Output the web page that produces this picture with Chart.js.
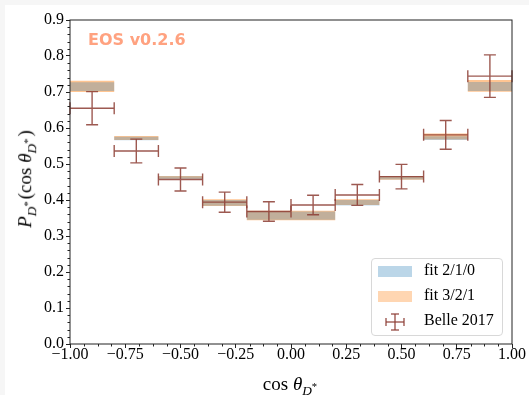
<!DOCTYPE html>
<html>
<head>
<meta charset="utf-8">
<script src="https://cdn.jsdelivr.net/npm/chart.js@4/dist/chart.umd.min.js"></script>
<style>
  html, body { margin: 0; padding: 0; background: #f6f6f6; }
  #wrap { position: absolute; left: 5px; top: 5px; width: 524px; height: 390px; background: #fff; }
  #chart { position: absolute; left: 0; top: 0; }
  .serif { font-family: 'Liberation Serif', serif; color: #000; }
  #eos { position: absolute; left: 83px; top: 25px; font: bold 16px 'DejaVu Sans', sans-serif; color: #ffa280; }
  #ylabel { position: absolute; left: 22px; top: 174px; transform: translate(-50%, -50%) rotate(-90deg); font-size: 19px; white-space: nowrap; }
  #xlabel { position: absolute; left: 286px; top: 381px; transform: translate(-50%, -50%); font-size: 19px; white-space: nowrap; }
  sub { font-size: 70%; vertical-align: -0.35em; margin-right: 2px; }
  sub sup { font-size: 80%; vertical-align: 0.5em; }
  #legend { position: absolute; left: 366px; top: 253px; width: 130px; height: 76px; border: 1px solid #d8d8d8; border-radius: 4px; background: rgba(255,255,255,0.85); }
  .row { position: absolute; left: 0; height: 20px; width: 130px; }
  .patch { position: absolute; left: 6px; top: 4px; width: 34px; height: 11px; }
  .ltext { position: absolute; left: 52px; top: -1px; font-size: 16px; white-space: nowrap; }
</style>
</head>
<body>
<div id="wrap">
  <canvas id="chart" width="524" height="390"></canvas>
  <div id="eos">EOS v0.2.6</div>
  <div id="ylabel" class="serif"><i>P</i><sub><i>D</i><sup>*</sup></sub>(cos <i>θ</i><sub><i>D</i><sup>*</sup></sub>)</div>
  <div id="xlabel" class="serif">cos <i>θ</i><sub><i>D</i><sup>*</sup></sub></div>
  <div id="legend" class="serif">
    <div class="row" style="top:3px"><div class="patch" style="background:rgba(31,119,180,0.3)"></div><div class="ltext">fit 2/1/0</div></div>
    <div class="row" style="top:28px"><div class="patch" style="background:rgba(255,127,14,0.32)"></div><div class="ltext">fit 3/2/1</div></div>
    <div class="row" style="top:53px">
      <svg style="position:absolute;left:13px;top:1px" width="20" height="18">
        <g stroke="rgba(140,60,50,0.85)" stroke-width="1.4" fill="none">
          <line x1="1" y1="9" x2="19" y2="9"/><line x1="10" y1="1" x2="10" y2="17"/>
          <line x1="1" y1="5" x2="1" y2="13"/><line x1="19" y1="5" x2="19" y2="13"/>
          <line x1="6" y1="1" x2="14" y2="1"/><line x1="6" y1="17" x2="14" y2="17"/>
        </g>
      </svg>
      <div class="ltext">Belle 2017</div>
    </div>
  </div>
</div>
<script>
// bins in cos(theta_D*)
const binEdges = [-1.0, -0.8, -0.6, -0.4, -0.2, 0.0, 0.2, 0.4, 0.6, 0.8, 1.0];

// Belle 2017 measurement
const belleValues = [0.655, 0.536, 0.457, 0.394, 0.368, 0.386, 0.414, 0.465, 0.581, 0.744];
const belleErrors = [0.046, 0.033, 0.032, 0.028, 0.027, 0.027, 0.029, 0.034, 0.040, 0.059];

// fit bands
const fit210Lower = [0.703, 0.566, 0.458, 0.384, 0.345, 0.345, 0.385, 0.457, 0.567, 0.703];
const fit210Upper = [0.727, 0.576, 0.466, 0.400, 0.368, 0.368, 0.400, 0.466, 0.577, 0.728];
const fit321Lower = [0.700, 0.567, 0.459, 0.383, 0.344, 0.344, 0.386, 0.456, 0.568, 0.701];
const fit321Upper = [0.731, 0.578, 0.467, 0.402, 0.370, 0.370, 0.402, 0.467, 0.585, 0.733];

const xTickValues = [-1.0, -0.75, -0.5, -0.25, 0.0, 0.25, 0.5, 0.75, 1.0];
const yTickValues = [0.0, 0.1, 0.2, 0.3, 0.4, 0.5, 0.6, 0.7, 0.8, 0.9];

const errColor = 'rgba(140,60,50,0.85)';
const serif = "'Liberation Serif', serif";

function stepData(values) {
    return binEdges.map((x, i) => ({ x: x, y: values[Math.min(i, values.length - 1)] }));
}

const belleData = belleValues.map((v, i) => ({ x: (binEdges[i] + binEdges[i + 1]) / 2, y: v }));

// error bars with caps, horizontal ones span the bin
const errorBarPlugin = {
    id: 'errorBars',
    afterDatasetsDraw(chart) {
        const ctx = chart.ctx;
        const xs = chart.scales.x, ys = chart.scales.y;
        const cap = 6;
        ctx.save();
        ctx.strokeStyle = errColor;
        ctx.lineWidth = 1.4;
        belleValues.forEach((v, i) => {
            const xc = xs.getPixelForValue((binEdges[i] + binEdges[i + 1]) / 2);
            const x0 = xs.getPixelForValue(binEdges[i]);
            const x1 = xs.getPixelForValue(binEdges[i + 1]);
            const yc = ys.getPixelForValue(v);
            const yLo = ys.getPixelForValue(v - belleErrors[i]);
            const yHi = ys.getPixelForValue(v + belleErrors[i]);
            ctx.beginPath();
            ctx.moveTo(x0, yc); ctx.lineTo(x1, yc);
            ctx.moveTo(xc, yLo); ctx.lineTo(xc, yHi);
            ctx.moveTo(x0, yc - cap); ctx.lineTo(x0, yc + cap);
            ctx.moveTo(x1, yc - cap); ctx.lineTo(x1, yc + cap);
            ctx.moveTo(xc - cap, yLo); ctx.lineTo(xc + cap, yLo);
            ctx.moveTo(xc - cap, yHi); ctx.lineTo(xc + cap, yHi);
            ctx.stroke();
        });
        ctx.restore();
    }
};

// frame around the axes plus minor ticks
const framePlugin = {
    id: 'frame',
    afterDraw(chart) {
        const ctx = chart.ctx;
        const a = chart.chartArea;
        const xs = chart.scales.x, ys = chart.scales.y;
        ctx.save();
        ctx.strokeStyle = '#222';
        ctx.lineWidth = 1;
        ctx.strokeRect(a.left, a.top, a.right - a.left, a.bottom - a.top);
        ctx.beginPath();
        for (let k = 0; k <= 32; k++) {
            if (k % 4 === 0) continue;
            const px = Math.round(xs.getPixelForValue(-1 + k * 0.0625)) + 0.5;
            ctx.moveTo(px, a.bottom); ctx.lineTo(px, a.bottom + 2.5);
        }
        for (let k = 0; k <= 45; k++) {
            if (k % 5 === 0) continue;
            const py = Math.round(ys.getPixelForValue(k * 0.02)) + 0.5;
            ctx.moveTo(a.left, py); ctx.lineTo(a.left - 2.5, py);
        }
        ctx.stroke();
        ctx.restore();
    }
};

new Chart(document.getElementById('chart'), {
    type: 'scatter',
    data: {
        datasets: [
            { label: 'fit 2/1/0 low', type: 'line', data: stepData(fit210Lower), stepped: 'before',
              borderWidth: 0, pointRadius: 0, fill: false },
            { label: 'fit 2/1/0', type: 'line', data: stepData(fit210Upper), stepped: 'before',
              borderWidth: 0, pointRadius: 0, fill: '-1', backgroundColor: 'rgba(31,119,180,0.28)' },
            { label: 'fit 3/2/1 low', type: 'line', data: stepData(fit321Lower), stepped: 'before',
              borderWidth: 0, pointRadius: 0, fill: false },
            { label: 'fit 3/2/1', type: 'line', data: stepData(fit321Upper), stepped: 'before',
              borderWidth: 0, pointRadius: 0, fill: '-1', backgroundColor: 'rgba(255,127,14,0.45)' },
            { label: 'Belle 2017', data: belleData, pointRadius: 0, showLine: false }
        ]
    },
    options: {
        responsive: false,
        animation: false,
        layout: { padding: { top: 15, right: 17, left: 0, bottom: 0 } },
        plugins: { legend: { display: false }, tooltip: { enabled: false } },
        scales: {
            x: {
                type: 'linear', min: -1, max: 1,
                afterBuildTicks: s => { s.ticks = xTickValues.map(v => ({ value: v })); },
                afterFit: s => { s.height = 51; },
                border: { display: false },
                grid: { drawOnChartArea: false, drawTicks: true, tickLength: 4, color: '#222' },
                ticks: {
                    color: '#000', padding: -3, maxRotation: 0,
                    font: { family: serif, size: 16 },
                    callback: v => (v < 0 ? '\u2212' : '') + Math.abs(v).toFixed(2)
                }
            },
            y: {
                type: 'linear', min: 0, max: 0.9,
                afterBuildTicks: s => { s.ticks = yTickValues.map(v => ({ value: v })); },
                afterFit: s => { s.width = 65; },
                border: { display: false },
                grid: { drawOnChartArea: false, drawTicks: true, tickLength: 4, color: '#222' },
                ticks: {
                    color: '#000', padding: 2,
                    font: { family: serif, size: 16 },
                    callback: v => v.toFixed(1)
                }
            }
        }
    },
    plugins: [errorBarPlugin, framePlugin]
});
</script>
</body>
</html>
